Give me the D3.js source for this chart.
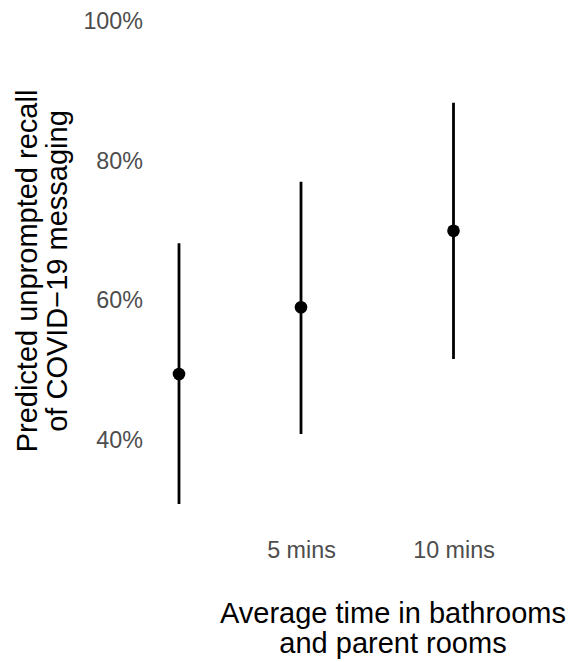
<!DOCTYPE html>
<html>
<head>
<meta charset="utf-8">
<script src="https://cdn.jsdelivr.net/npm/d3@7"></script>
<style>
  html, body { margin: 0; padding: 0; background: #fff; }
  svg { display: block; font-family: "Liberation Sans", Arial, Helvetica, sans-serif; }
</style>
</head>
<body>
<svg id="chart" width="569" height="662"></svg>
<script>
// ---- data ----
const timeMins = [1, 5, 10];
const estimate = [0.4945, 0.590, 0.6997];
const lower = [0.3084, 0.4086, 0.516];
const upper = [0.6816, 0.7698, 0.883];
const xTickValues = [5, 10];
const xTickLabels = ["5 mins", "10 mins"];
const yTickValues = [0.4, 0.6, 0.8, 1.0];
const yTitleLines = ["Predicted unprompted recall", "of COVID\u221219 messaging"];
const xTitleLines = ["Average time in bathrooms", "and parent rooms"];

const rows = timeMins.map((t, i) => ({ t, est: estimate[i], lo: lower[i], hi: upper[i] }));

const svg = d3.select("#chart");

const x = d3.scaleLinear().domain([1, 10]).range([179, 453.5]);
const y = d3.scaleLinear().domain([0.4, 1.0]).range([440, 21]);

// y axis
const yAxis = svg.append("g")
  .attr("transform", "translate(150,0)")
  .call(d3.axisLeft(y).tickValues(yTickValues).tickSize(0).tickPadding(7)
    .tickFormat(d3.format(".0%")));
yAxis.select(".domain").remove();
yAxis.selectAll("text")
  .attr("fill", "#4d4d4d")
  .style("font-size", "23.3px")
  .style("font-family", "'Liberation Sans', Arial, sans-serif");

// x axis
const xAxis = svg.append("g")
  .attr("transform", "translate(0,541.5)")
  .call(d3.axisBottom(x).tickValues(xTickValues).tickSize(0).tickPadding(0)
    .tickFormat((d, i) => xTickLabels[i]));
xAxis.select(".domain").remove();
xAxis.selectAll("text")
  .attr("fill", "#4d4d4d")
  .style("font-size", "23.3px")
  .style("font-family", "'Liberation Sans', Arial, sans-serif");

// error bars
svg.append("g").selectAll("line")
  .data(rows).join("line")
  .attr("x1", d => x(d.t)).attr("x2", d => x(d.t))
  .attr("y1", d => y(d.lo)).attr("y2", d => y(d.hi))
  .attr("stroke", "#000").attr("stroke-width", 2.8);

// points
svg.append("g").selectAll("circle")
  .data(rows).join("circle")
  .attr("cx", d => x(d.t)).attr("cy", d => y(d.est))
  .attr("r", 6.3).attr("fill", "#000");

// y title
const yTitle = svg.append("text")
  .attr("transform", "translate(0,271) rotate(-90)")
  .attr("text-anchor", "middle")
  .attr("fill", "#000")
  .style("font-size", "29px");
yTitleLines.forEach((l, i) => {
  yTitle.append("tspan").attr("x", 0).attr("y", 37.3 + i * 29.2).text(l);
});

// x title
const xTitle = svg.append("text")
  .attr("text-anchor", "middle")
  .attr("fill", "#000")
  .style("font-size", "29px");
xTitleLines.forEach((l, i) => {
  xTitle.append("tspan").attr("x", 393).attr("y", 623.3 + i * 29.8).text(l);
});
</script>
</body>
</html>
